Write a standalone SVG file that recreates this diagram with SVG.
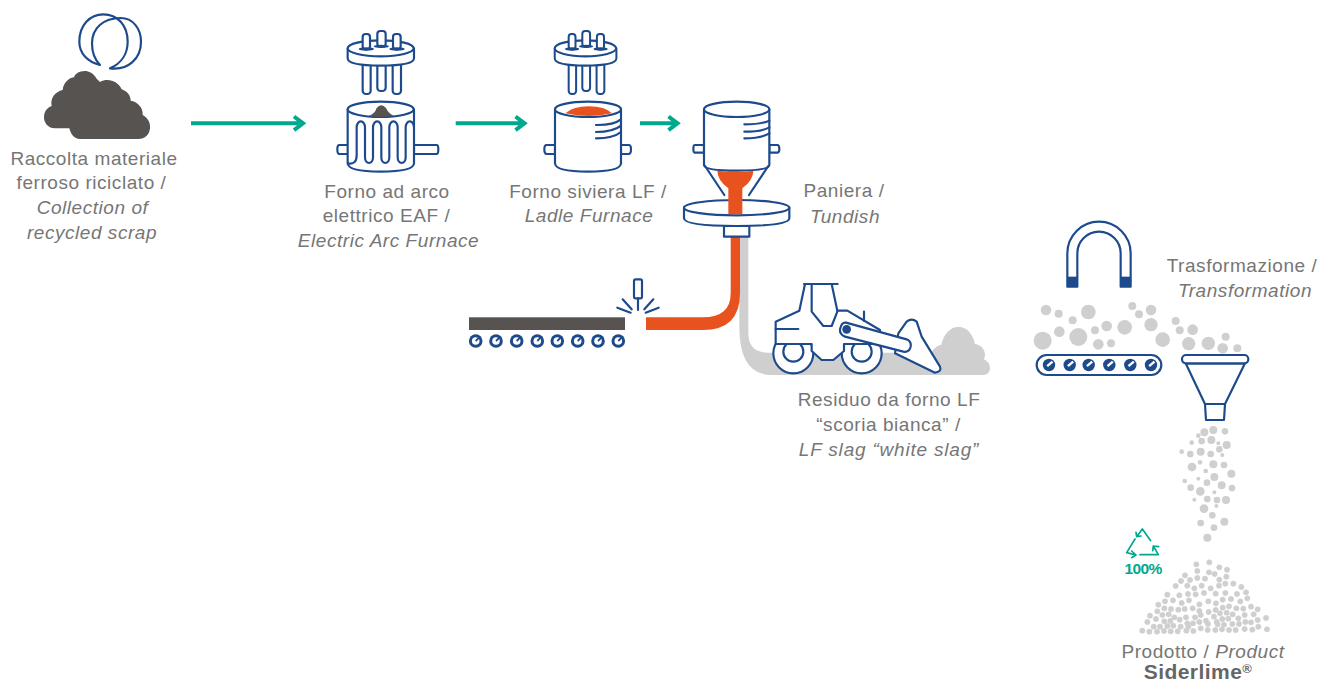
<svg xmlns="http://www.w3.org/2000/svg" xmlns:xlink="http://www.w3.org/1999/xlink" width="1317" height="684" viewBox="0 0 1317 684">
<style>
text{font-family:"Liberation Sans",Arial,sans-serif;font-size:19px;letter-spacing:.55px;fill:#767676;text-anchor:middle}
.i{font-style:italic}
.s{fill:#fff;stroke:#1c4a8c;stroke-width:6.500;stroke-linejoin:round;stroke-linecap:round}
.l{fill:none;stroke:#1c4a8c;stroke-width:6.500;stroke-linejoin:round;stroke-linecap:round}
.n{fill:#1c4a8c}
.g{fill:#cfcfcf}
.p{fill:#cfcfcf;stroke:#cfcfcf;stroke-width:4}
.q{stroke-width:1.500}
.o{fill:#e8521e}
.d{fill:#575350}
.a{fill:none;stroke:#00a88e;stroke-width:4}
.r{fill:none;stroke:#00a88e;stroke-width:5;stroke-linecap:round;stroke-linejoin:round}
</style>
<defs>
<g id="lid">
<rect class="s" x="128" y="120" width="24" height="102" rx="10"/>
<rect class="s" x="172" y="120" width="25" height="93" rx="10"/>
<rect class="s" x="218" y="120" width="25" height="102" rx="10"/>
<path class="s" d="M83 85V115Q83 137 182 137Q282 137 282 115V85Z"/>
<ellipse class="s" cx="182" cy="85" rx="99" ry="24"/>
<rect class="s" x="128" y="42" width="22" height="46" rx="9"/>
<rect class="s" x="172" y="33" width="25" height="47" rx="9"/>
<rect class="s" x="219" y="42" width="23" height="46" rx="9"/>
<ellipse class="n" cx="139" cy="87" rx="23" ry="5"/>
<ellipse class="n" cx="184" cy="79" rx="23" ry="5"/>
<ellipse class="n" cx="231" cy="87" rx="23" ry="5"/>
</g>
<g id="roller">
<circle class="n" r="6.800"/>
<circle r="3.800" fill="#fff"/>
<path d="M0 0L3.800-3.800" stroke="#1c4a8c" stroke-width="1.800"/>
</g>
<g id="belt">
<circle class="n" r="6.200"/>
<path d="M-1.800 1.200L3.500-3.300" stroke="#fff" stroke-width="2.400"/>
</g>
</defs>

<g id="connectors">
<path class="a" d="M191 123.300H303M294 116.500L303 123.300L294 130.100"/>
<path class="a" d="M455.700 123.300H524.500M515.500 116.500L524.500 123.300L515.500 130.100"/>
<path class="a" d="M640 123.300H677.500M668.500 116.500L677.500 123.300L668.500 130.100"/>
</g>

<g id="scrap-pile" transform="scale(.33333)">
<path class="d" d="M132 352C132 335 142 322 155 318C150 295 165 275 188 270C190 245 212 232 222 232C228 212 270 200 290 236L300 246C325 232 355 245 365 268C385 275 392 290 392 302C412 305 430 322 428 345C445 355 452 370 450 385C448 405 435 417 415 417H240C222 417 212 402 208 385H165C145 385 132 370 132 352Z"/>
</g>
<g id="scrap-rings" transform="scale(.33333)">
<path class="l" d="M300 195C262 185 238 160 238 125C238 75 270 43 310 43C352 43 383 75 383 125C383 160 365 190 330 205C385 212 423 175 423 125C423 85 398 54 362 54C310 54 276 85 276 130C276 160 285 180 300 195Z"/>
</g>
<text x="94" y="164.500">Raccolta materiale</text>
<text x="91.500" y="189">ferroso riciclato /</text>
<text x="92.500" y="214" class="i">Collection of</text>
<text x="92" y="238.500" class="i">recycled scrap</text>

<g id="eaf">
<g transform="translate(320 20) scale(.33333)">
<use xlink:href="#lid"/>
<path class="s" d="M85 375H58Q52 375 52 388Q52 402 58 402H85ZM282 375H350Q355 375 355 388Q355 402 350 402H282Z"/>
<path class="s" d="M83 268V430Q83 455 182 455Q282 455 282 430V268Z"/>
<ellipse class="s" cx="182" cy="268" rx="99" ry="23"/>
<path class="d" d="M147 288Q165 280 170 264Q184 248 198 264Q205 280 222 288Q182 294 147 288Z"/>
<path class="l" d="M85 430Q110 435 110 405V322A12.500 18 0 0 1 135 322V412A12 17 0 0 0 159 412V322A12.500 18 0 0 1 184 322V412A12 17 0 0 0 208 412V322A12.500 18 0 0 1 233 322V412A12 17 0 0 0 257 412V322A12.500 18 0 0 1 282 322"/>
</g>
</g>
<text x="387" y="197.700">Forno ad arco</text>
<text x="386.500" y="222">elettrico EAF /</text>
<text x="388.500" y="246.700" class="i">Electric Arc Furnace</text>

<g id="ladle-furnace">
<g transform="translate(320 20) scale(.33333)">
<use xlink:href="#lid" transform="translate(627 0) scale(.93 1)"/>
<path class="s" d="M705 375H680Q673 375 673 388Q673 402 680 402H705ZM903 375H926Q933 375 933 388Q933 402 926 402H903Z"/>
<path class="s" d="M705 268V430Q705 455 804 455Q903 455 903 430V268Z"/>
<ellipse class="s" cx="804" cy="268" rx="99" ry="23"/>
<path class="o" d="M736 280Q760 259 806 259Q855 259 876 280Q806 296 736 280Z"/>
<path class="l" d="M828 315Q880 316 903 298M828 336Q880 336 903 317M828 355Q880 355 903 336"/>
</g>
</g>
<text x="588" y="197.700">Forno siviera LF /</text>
<text x="589" y="222" class="i">Ladle Furnace</text>

<g id="white-slag">
<g transform="translate(730 270) scale(.33333)">
<path class="g" d="M28-99H55V190Q55 248 115 248H605C610 235 622 226 634 224C640 195 660 170 685 170C712 170 730 195 735 222C755 225 765 240 765 255C765 262 762 266 760 268C772 272 780 282 780 295C780 308 770 315 760 315H125Q28 315 28 170Z"/>
<circle class="s" cx="190" cy="250" r="60"/><circle class="s" cx="190" cy="245" r="30"/>
<circle class="s" cx="395" cy="250" r="60"/><circle class="s" cx="395" cy="245" r="30"/>
<path class="s" d="M208 122L225 42H305L322 122H352L450 180L450 222H342V243L310 270H275L245 243V222H137V155Z"/>
<path class="l" d="M222 42H323M245 42V125L280 168H305L322 125M402 125V153M137 177H205"/>
<path class="s" d="M505 190L530 155Q545 143 560 155L575 200L630 290Q636 305 615 308L495 250Z"/>
<path class="s" d="M348 158L530 208Q545 215 542 230Q537 248 520 245L345 200Q328 192 330 178Q335 155 348 158Z"/>
<circle class="n" cx="350" cy="178" r="13"/>
</g>
</g>
<text x="889" y="406">Residuo da forno LF</text>
<text x="888.500" y="430.500">“scoria bianca” /</text>
<text x="889" y="455.500" class="i" style="letter-spacing:.8px">LF slag “white slag”</text>

<g id="cast-stream">
<path class="o" d="M730.700 235H740V293Q740 330 703 330H646V317.300H703Q730.700 317.300 730.700 293Z"/>
</g>

<g id="tundish">
<g transform="translate(660 80) scale(.33333)">
<path class="s" d="M105 195H132V218H105Q100 218 100 207Q100 195 105 195ZM328 195H352Q358 195 358 207Q358 218 352 218H328Z"/>
<path class="s" d="M132 88V255Q132 272 230 272Q328 272 328 255V88Z"/>
<ellipse class="s" cx="230" cy="88" rx="98" ry="23"/>
<path class="l" d="M253 133Q305 133 328 122M253 155Q305 155 328 142M253 175Q305 175 328 160"/>
<path class="l" d="M135 258L193 345M325 258L267 345"/>
<path class="s" d="M72 383V415Q72 438 230 438Q388 438 388 415V383Z"/>
<ellipse class="s" cx="230" cy="383" rx="158" ry="23"/>
<path class="o" d="M172 272Q230 280 280 272Q280 300 247 325V403H205V325Q172 300 172 272Z"/>
<path class="s" d="M192 438H268V470H192Z"/>
</g>
</g>
<text x="844" y="197">Paniera /</text>
<text x="845" y="222.700" class="i">Tundish</text>

<g id="casting-line">
<rect class="d" x="469" y="317.300" width="156" height="12.700"/>
<use xlink:href="#roller" x="475.700" y="341"/><use xlink:href="#roller" x="496" y="341"/><use xlink:href="#roller" x="516.700" y="341"/><use xlink:href="#roller" x="537.300" y="341"/><use xlink:href="#roller" x="557.300" y="341"/><use xlink:href="#roller" x="577.700" y="341"/><use xlink:href="#roller" x="598" y="341"/><use xlink:href="#roller" x="618.300" y="341"/>
<g transform="translate(460 260) scale(.33333)">
<rect class="s" x="522" y="58" width="24" height="57" rx="5"/>
<path class="l" d="M534 115V150M488 118L515 148M472 143L512 158M580 118L553 148M596 143L557 158"/>
</g>
</g>

<g id="magnet">
<g transform="translate(1020 210) scale(.33333)">
<path class="s" d="M142 230V130A95 95 0 0 1 332 130V230H302V130A65 65 0 0 0 172 130V230Z"/>
<rect class="n" x="141" y="200" width="32" height="31"/>
<rect class="n" x="301" y="200" width="32" height="31"/>
</g>
</g>
<text x="1242" y="272">Trasformazione /</text>
<text x="1245" y="297" class="i">Transformation</text>

<g id="scrap-particles" class="g" transform="translate(1020 210) scale(.33333)">
<circle cx="78" cy="300" r="16"/><circle cx="116" cy="311" r="12"/><circle cx="205" cy="306" r="22"/><circle cx="158" cy="331" r="12"/><circle cx="118" cy="365" r="16"/><circle cx="68" cy="392" r="27"/><circle cx="175" cy="381" r="27"/><circle cx="225" cy="361" r="12"/><circle cx="260" cy="348" r="16"/><circle cx="235" cy="403" r="16"/><circle cx="273" cy="400" r="12"/><circle cx="314" cy="352" r="22"/><circle cx="337" cy="288" r="12"/><circle cx="357" cy="313" r="12"/><circle cx="393" cy="300" r="16"/><circle cx="393" cy="344" r="20"/><circle cx="428" cy="389" r="22"/><circle cx="467" cy="333" r="12"/><circle cx="479" cy="361" r="12"/><circle cx="518" cy="359" r="16"/><circle cx="506" cy="401" r="20"/><circle cx="565" cy="400" r="20"/><circle cx="617" cy="380" r="12"/><circle cx="608" cy="415" r="16"/><circle cx="652" cy="415" r="12"/>
</g>

<g id="belt-conveyor">
<g transform="translate(1020 210) scale(.33333)">
<rect class="s" x="50" y="435" width="374" height="60" rx="30"/>
</g>
<use xlink:href="#belt" x="1049" y="365"/><use xlink:href="#belt" x="1069.700" y="365"/><use xlink:href="#belt" x="1088.700" y="365"/><use xlink:href="#belt" x="1109.300" y="365"/><use xlink:href="#belt" x="1130.300" y="365"/><use xlink:href="#belt" x="1151" y="365"/>
</g>

<g id="funnel">
<g transform="translate(1020 210) scale(.33333)">
<path class="s" d="M497 460L555 582L558 630H612L615 582L675 460Z"/>
<path class="l" d="M555 582H615"/>
<rect class="s" x="486" y="435" width="199" height="25" rx="12"/>
</g>
</g>

<g id="product" class="p" transform="translate(1110 420) scale(.33333)">
<circle cx="310" cy="30" r="10"/><circle cx="283" cy="37" r="10"/><circle cx="345" cy="34" r="8"/><circle cx="265" cy="47" r="5"/><circle cx="275" cy="63" r="8"/><circle cx="304" cy="60" r="10"/><circle cx="325" cy="70" r="4"/><circle cx="350" cy="75" r="10"/><circle cx="245" cy="68" r="5"/><circle cx="215" cy="95" r="5"/><circle cx="241" cy="102" r="8"/><circle cx="272" cy="95" r="10"/><circle cx="302" cy="102" r="8"/><circle cx="328" cy="88" r="8"/><circle cx="337" cy="105" r="4"/><circle cx="270" cy="127" r="5"/><circle cx="310" cy="133" r="10"/><circle cx="342" cy="135" r="8"/><circle cx="246" cy="141" r="11"/><circle cx="287" cy="153" r="5"/><circle cx="364" cy="161" r="10"/><circle cx="313" cy="171" r="10"/><circle cx="265" cy="176" r="4"/><circle cx="224" cy="183" r="5"/><circle cx="291" cy="188" r="8"/><circle cx="335" cy="196" r="10"/><circle cx="366" cy="204" r="8"/><circle cx="242" cy="203" r="8"/><circle cx="271" cy="214" r="11"/><circle cx="313" cy="217" r="4"/><circle cx="253" cy="239" r="4"/><circle cx="292" cy="237" r="8"/><circle cx="321" cy="240" r="8"/><circle cx="348" cy="240" r="10"/><circle cx="319" cy="258" r="4"/><circle cx="282" cy="266" r="11"/><circle cx="307" cy="286" r="8"/><circle cx="343" cy="305" r="10"/><circle cx="272" cy="309" r="8"/><circle cx="312" cy="323" r="8"/><circle cx="292" cy="353" r="10"/>
<g class="q">
<circle cx="259" cy="433" r="8"/><circle cx="298" cy="427" r="8"/><circle cx="328" cy="442" r="8"/><circle cx="351" cy="449" r="8"/><circle cx="262" cy="453" r="8"/><circle cx="297" cy="457" r="8"/><circle cx="314" cy="462" r="8"/><circle cx="349" cy="470" r="8"/><circle cx="225" cy="466" r="8"/><circle cx="240" cy="480" r="8"/><circle cx="213" cy="483" r="8"/><circle cx="262" cy="474" r="8"/><circle cx="285" cy="476" r="8"/><circle cx="328" cy="479" r="8"/><circle cx="197" cy="498" r="8"/><circle cx="232" cy="497" r="8"/><circle cx="275" cy="497" r="8"/><circle cx="253" cy="505" r="8"/><circle cx="346" cy="491" r="8"/><circle cx="327" cy="497" r="8"/><circle cx="370" cy="491" r="8"/><circle cx="394" cy="501" r="8"/><circle cx="302" cy="505" r="8"/><circle cx="172" cy="524" r="8"/><circle cx="208" cy="526" r="8"/><circle cx="234" cy="522" r="8"/><circle cx="257" cy="523" r="8"/><circle cx="282" cy="519" r="8"/><circle cx="317" cy="521" r="8"/><circle cx="346" cy="519" r="8"/><circle cx="381" cy="522" r="8"/><circle cx="408" cy="517" r="8"/><circle cx="165" cy="544" r="8"/><circle cx="189" cy="541" r="8"/><circle cx="237" cy="541" r="8"/><circle cx="215" cy="549" r="8"/><circle cx="145" cy="554" r="8"/><circle cx="268" cy="553" r="8"/><circle cx="295" cy="544" r="8"/><circle cx="318" cy="550" r="8"/><circle cx="338" cy="539" r="8"/><circle cx="363" cy="537" r="8"/><circle cx="391" cy="544" r="8"/><circle cx="412" cy="535" r="8"/><circle cx="163" cy="565" r="8"/><circle cx="183" cy="567" r="8"/><circle cx="205" cy="569" r="8"/><circle cx="224" cy="567" r="8"/><circle cx="248" cy="565" r="8"/><circle cx="268" cy="573" r="8"/><circle cx="296" cy="576" r="8"/><circle cx="317" cy="570" r="8"/><circle cx="338" cy="563" r="8"/><circle cx="357" cy="559" r="8"/><circle cx="379" cy="565" r="8"/><circle cx="400" cy="566" r="8"/><circle cx="423" cy="560" r="8"/><circle cx="443" cy="568" r="8"/><circle cx="142" cy="574" r="8"/><circle cx="120" cy="587" r="8"/><circle cx="138" cy="597" r="8"/><circle cx="157" cy="585" r="8"/><circle cx="176" cy="583" r="8"/><circle cx="193" cy="592" r="8"/><circle cx="209" cy="599" r="8"/><circle cx="228" cy="592" r="8"/><circle cx="255" cy="592" r="8"/><circle cx="272" cy="585" r="8"/><circle cx="312" cy="590" r="8"/><circle cx="330" cy="580" r="8"/><circle cx="350" cy="578" r="8"/><circle cx="368" cy="583" r="8"/><circle cx="385" cy="595" r="8"/><circle cx="404" cy="585" r="8"/><circle cx="431" cy="583" r="8"/><circle cx="468" cy="594" r="8"/><circle cx="443" cy="600" r="8"/><circle cx="112" cy="606" r="8"/><circle cx="163" cy="604" r="8"/><circle cx="181" cy="603" r="8"/><circle cx="232" cy="610" r="8"/><circle cx="249" cy="610" r="8"/><circle cx="268" cy="606" r="8"/><circle cx="288" cy="602" r="8"/><circle cx="320" cy="606" r="8"/><circle cx="337" cy="597" r="8"/><circle cx="355" cy="596" r="8"/><circle cx="342" cy="614" r="8"/><circle cx="367" cy="612" r="8"/><circle cx="387" cy="612" r="8"/><circle cx="406" cy="606" r="8"/><circle cx="423" cy="607" r="8"/><circle cx="131" cy="620" r="8"/><circle cx="150" cy="620" r="8"/><circle cx="172" cy="618" r="8"/><circle cx="190" cy="617" r="8"/><circle cx="212" cy="620" r="8"/><circle cx="235" cy="620" r="8"/><circle cx="272" cy="625" r="8"/><circle cx="294" cy="612" r="8"/><circle cx="323" cy="613" r="8"/><circle cx="445" cy="620" r="8"/><circle cx="97" cy="632" r="8"/><circle cx="118" cy="635" r="8"/><circle cx="141" cy="635" r="8"/><circle cx="162" cy="633" r="8"/><circle cx="182" cy="634" r="8"/><circle cx="203" cy="634" r="8"/><circle cx="229" cy="632" r="8"/><circle cx="250" cy="633" r="8"/><circle cx="293" cy="630" r="8"/><circle cx="316" cy="630" r="8"/><circle cx="336" cy="628" r="8"/><circle cx="357" cy="630" r="8"/><circle cx="377" cy="630" r="8"/><circle cx="404" cy="627" r="8"/><circle cx="427" cy="629" r="8"/><circle cx="471" cy="628" r="8"/>
</g>
</g>
<text x="1203" y="657.500">Prodotto / <tspan class="i">Product</tspan></text>
<text x="1198" y="679" style="font-size:21px;font-weight:700;letter-spacing:.45px;fill:#666">Siderlime<tspan font-size="13" dy="-6">®</tspan></text>

<g id="recycle-badge">
<g transform="translate(1110 420) scale(.33333)">
<path class="r" d="M122 362L97 327L80 350M78 337L80 350L93 348M75 357L50 398L78 405M65 393L78 405L65 413M90 404H145L130 378M128 392L130 378L146 380"/>
</g>
<text x="1143" y="574" style="font-size:15.500px;font-weight:700;fill:#00a88e;letter-spacing:-.6px">100%</text>
</g>
</svg>
